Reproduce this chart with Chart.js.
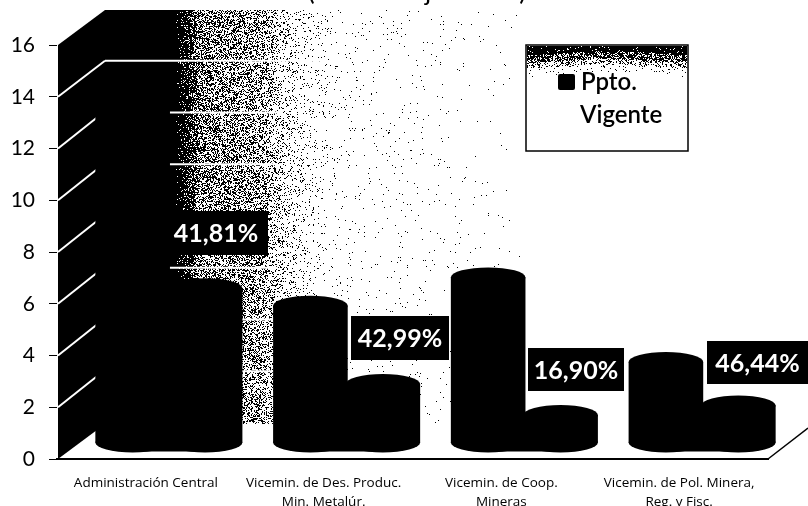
<!DOCTYPE html>
<html><head><meta charset="utf-8">
<style>html,body{margin:0;padding:0;background:#fff}canvas{display:block}</style>
<script src="https://cdn.jsdelivr.net/npm/chart.js@4"></script>
</head><body><canvas id="c" width="808" height="506"></canvas>
<script>
const categories = [
  ["Administración Central"],
  ["Vicemin. de Des. Produc.", "Min. Metalúr."],
  ["Vicemin. de Coop.", "Mineras"],
  ["Vicemin. de Pol. Minera,", "Reg. y Fisc."]
];
const pptoVigente = [14.3, 5.3, 6.4, 3.13];
const ejecucion = [5.98, 2.28, 1.08, 1.45];
const percentLabels = ["41,81%", "42,99%", "16,90%", "46,44%"];
const yTicks = [0, 2, 4, 6, 8, 10, 12, 14, 16];

const FONT = "Lato, 'Open Sans', sans-serif";
const DX = 23, DY = -16;           // 3D shift of the columns
const labelBoxes = [[168,211,100,44],[351,316,98,44],[528,348,96,43],[707,341,101,43]];

// fixed scan-like speckle (decoration only, repeatable from pixel position)
function speck(x, y) {
  let h = (x * 374761393 + y * 668265263) | 0;
  h = Math.imul(h ^ (h >>> 13), 1274126177);
  h = h ^ (h >>> 16);
  return ((h >>> 0) % 10000) / 10000;
}
const wallStops = [[105,1],[175,1],[190,.8],[200,.5],[260,.38],[285,.14],[310,.06],[340,.015],[480,.006],[530,0]];
function density(x) {
  for (let i = 1; i < wallStops.length; i++) {
    const a = wallStops[i-1], b = wallStops[i];
    if (x <= b[0]) return a[1] + (b[1]-a[1]) * (x-a[0]) / (b[0]-a[0]);
  }
  return 0;
}
function stipple(c, x0, y0, x1, y1, f) {
  for (let y = y0; y < y1; y++) for (let x = x0; x < x1; x++) {
    if (speck(x, y) < f(x, y)) c.fillRect(x, y, 1, 1);
  }
}

const scene = {
  id: 'scene',
  beforeDatasetsDraw(chart) {
    const c = chart.ctx, y = chart.scales.y;
    const y0 = y.getPixelForValue(0);
    c.save();
    c.fillStyle = '#000';
    stipple(c, 105, 10, 530, y0 - 35, (px) => density(px));
    c.beginPath();
    c.moveTo(58, y.getPixelForValue(16)); c.lineTo(105, 10);
    c.lineTo(105, y0 - 35); c.lineTo(58, y0);
    c.closePath(); c.fill();
    c.strokeStyle = '#fff'; c.lineWidth = 2;
    yTicks.forEach(v => {
      if (v === 0 || v === 16) return;
      const p = y.getPixelForValue(v);
      c.beginPath();
      c.moveTo(58, p);
      if (v === 14) { c.lineTo(105, p - 36); } else { c.lineTo(97, p - 31); }
      c.stroke();
      c.beginPath();
      c.moveTo(105, p - 36); c.lineTo(v === 14 ? 325 : 278, p - 36); c.stroke();
    });
    c.strokeStyle = '#000'; c.lineWidth = 1.5;
    c.beginPath(); c.moveTo(768, y0); c.lineTo(808, y0 - 31); c.stroke();
    c.restore();
    c.save();
    c.translate(DX, DY);
  },
  afterDatasetsDraw(chart) {
    const c = chart.ctx;
    c.fillStyle = '#000';
    const metas = chart.data.datasets.map((d, i) => chart.getDatasetMeta(i));
    metas.forEach(meta => {
      meta.data.forEach(el => {
        const rx = el.width / 2, ry = 10;
        c.beginPath(); c.ellipse(el.x, el.y, rx, ry, 0, 0, 2 * Math.PI); c.fill();
        c.beginPath(); c.ellipse(el.x, el.base, rx, ry, 0, 0, 2 * Math.PI); c.fill();
      });
    });
    metas[0].data.forEach((el, i) => {
      const other = metas[1].data[i];
      c.fillRect(el.x, el.base, other.x - el.x, 9);
    });
    c.restore();
    c.save();
    // percentage labels
    percentLabels.forEach((t, i) => {
      const b = labelBoxes[i];
      c.fillStyle = '#000'; c.fillRect(b[0], b[1], b[2], b[3]);
      c.fillStyle = '#fff'; c.font = "bold 25px " + FONT;
      c.textAlign = 'center'; c.textBaseline = 'middle';
      c.fillText(t, b[0] + (i === 0 ? 48 : b[2] / 2), b[1] + b[3] / 2 + 1);
    });
    // title, cut by the top edge as in the scan
    c.fillStyle = '#000'; c.font = "26px " + FONT; c.textAlign = 'center'; c.textBaseline = 'alphabetic';
    c.fillText("(en % de ejecución)", 417, 0);
    // legend
    c.lineWidth = 1.5; c.strokeStyle = '#000'; c.fillStyle = '#fff';
    c.fillRect(526, 45, 162, 106); c.strokeRect(526, 45, 162, 106);
    c.fillStyle = '#000';
    stipple(c, 527, 46, 687, 80, (px, py) => {
      const d = py - Math.abs(px - 607) / 16;
      if (d < 50) return 0.95;
      if (d < 58) return 0.65;
      if (d < 63) return 0.3;
      if (d < 72) return 0.05;
      return 0;
    });
    c.beginPath(); c.roundRect(558, 74, 17, 16, 2); c.fill();
    c.font = "600 24px " + FONT; c.textAlign = 'left'; c.textBaseline = 'alphabetic';
    c.fillText("Ppto.", 581, 90);
    c.fillText("Vigente", 580, 123);
    c.restore();
  }
};

new Chart(document.getElementById('c'), {
  type: 'bar',
  data: {
    labels: categories,
    datasets: [
      { label: 'Ppto. Vigente', data: pptoVigente, backgroundColor: '#000' },
      { label: 'Ejecución', data: ejecucion, backgroundColor: '#000' }
    ]
  },
  options: {
    responsive: false, animation: false,
    layout: { padding: { left: 0, right: 40, top: 45, bottom: 0 } },
    datasets: { bar: { categoryPercentage: 0.815, barPercentage: 1.03 } },
    plugins: { legend: { display: false }, title: { display: false }, tooltip: { enabled: false } },
    scales: {
      x: {
        grid: { display: false },
        border: { display: true, color: '#000', width: 2 },
        afterFit(s) { s.height = 47; },
        ticks: { color: '#000', font: { family: "'Open Sans', sans-serif", size: 13.5, lineHeight: 1.45 }, padding: 6, maxRotation: 0, autoSkip: false }
      },
      y: {
        min: 0, max: 16,
        afterFit(s) { s.width = 57; },
        afterBuildTicks(s) { s.ticks = yTicks.map(v => ({ value: v })); },
        grid: { drawOnChartArea: false, drawTicks: true, tickLength: 8, color: '#000' },
        border: { display: false },
        ticks: { color: '#000', font: { family: FONT, size: 21 }, padding: 14 }
      }
    }
  },
  plugins: [scene]
});
</script></body></html>
